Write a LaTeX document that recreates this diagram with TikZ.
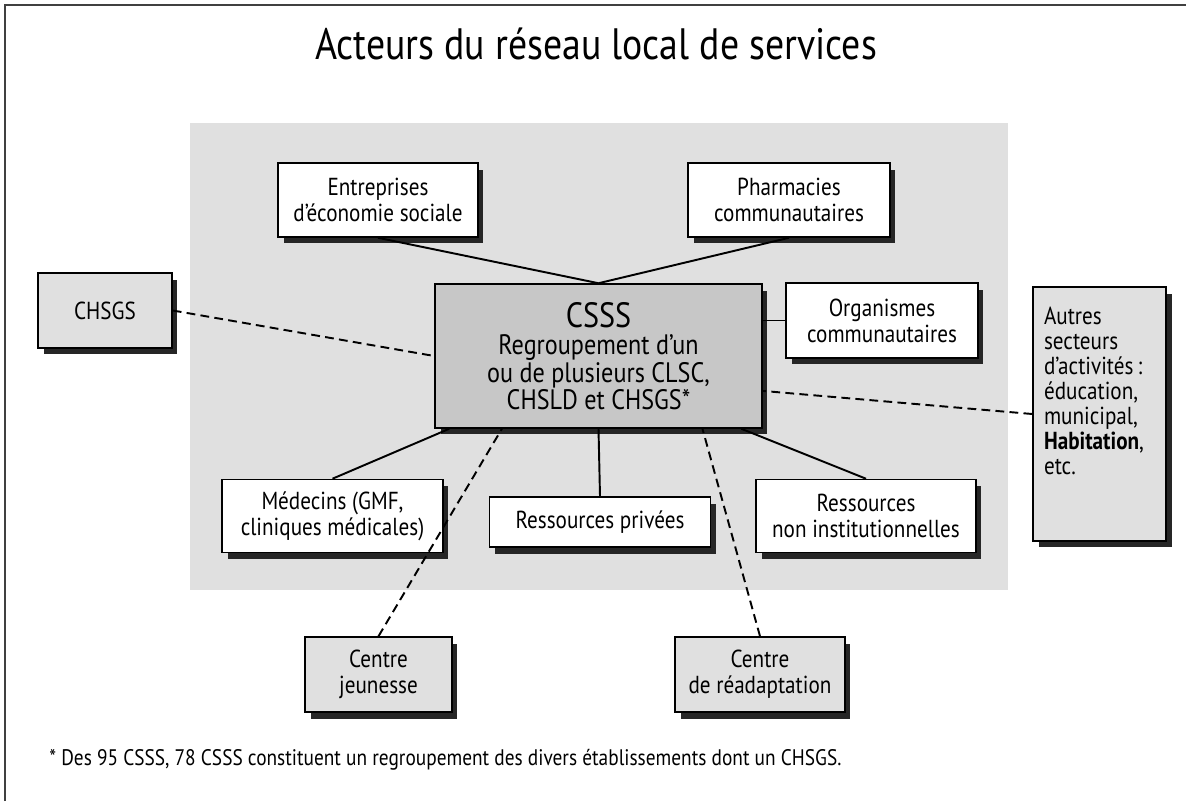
\documentclass[tikz,border=0pt]{standalone}
\usepackage{fontspec}
\setmainfont{PT Sans}[FakeStretch=0.86]
\usetikzlibrary{shadows, positioning}

\tikzset{
  box/.style={draw, line width=0.9pt, fill=white, align=center, inner sep=2pt,
    font=\fontsize{14}{14.7}\selectfont,
    drop shadow={shadow xshift=0.11cm, shadow yshift=-0.13cm, fill=black!85, opacity=1}},
  outbox/.style={box, fill=black!12},
  link/.style={line width=1.1pt},
  dlink/.style={line width=1.1pt, dash pattern=on 5pt off 3pt},
}

\begin{document}
\begin{tikzpicture}[x=0.02cm, y=-0.02cm, font=\fontsize{12.8}{14.7}\selectfont]
\useasboundingbox (0,0) rectangle (1186,801);
\draw[line width=1.3pt, black!75] (5,801) -- (5,5) -- (1186,5);

\node (title) at (596,44) {\fontsize{25}{28}\selectfont Acteurs du réseau local de services};

% zone grise du reseau local
\fill[black!12] (190,123) rectangle (1008,590);

\node[box, minimum width=4cm, minimum height=1.48cm] (entreprises) at (378,200) {Entreprises\\ d’économie sociale};
\node[box, minimum width=4.04cm, minimum height=1.48cm] (pharmacies) at (789,200) {Pharmacies\\ communautaires};
\node[box, fill=black!22, minimum width=6.54cm, minimum height=2.88cm,
  font=\fontsize{16}{15.6}\selectfont] (csss) at (598.5,356)
  {{\fontsize{20}{20}\selectfont CSSS}\\ Regroupement d’un\\ ou de plusieurs CLSC,\\ CHSLD et CHSGS*};
\node[box, minimum width=3.84cm, minimum height=1.5cm] (organismes) at (882,320.5) {Organismes\\ communautaires};

\node[outbox, minimum width=2.68cm, minimum height=1.5cm] (chsgs) at (105,310.5) {CHSGS};
\node[outbox, inner sep=0pt, font=\fontsize{14}{14.2}\selectfont] (autres) at (1099.5,414)
  {\parbox[t][5.08cm][t]{2.66cm}{\raggedright\hspace*{0.22cm}\parbox[t]{2.4cm}{\vspace*{0.4cm}\raggedright Autres\\ secteurs\\ d’activités\,:\\ éducation,\\ municipal,\\ \textbf{Habitation},\\ etc.}}};

\node[box, minimum width=4.42cm, minimum height=1.46cm] (medecins) at (332.5,516) {Médecins (GMF,\\ cliniques médicales)};
\node[box, minimum width=4.42cm, minimum height=1.0cm] (privees) at (600,522) {Ressources privées};
\node[box, minimum width=4.4cm, minimum height=1.46cm] (noninst) at (866,516) {Ressources\\ non institutionnelles};

\node[outbox, minimum width=2.94cm, minimum height=1.5cm] (jeunesse) at (378.5,674.5) {Centre\\ jeunesse};
\node[outbox, minimum width=3.4cm, minimum height=1.5cm] (readapt) at (760,674.5) {Centre\\ de réadaptation};

\node[anchor=west, inner sep=0pt] (note) at (49,760)
  {* Des 95 CSSS, 78 CSSS constituent un regroupement des divers établissements dont un CHSGS.};

% liens
\draw[link] (entreprises.south) -- (csss.north);
\draw[link] (pharmacies.south) -- (csss.north);
\draw[link] (organismes.west) -- (csss.east |- organismes.west);
\draw[link] (medecins.north) -- (csss.-154);
\draw[link] (privees.north) -- (csss.south);
\draw[link] (noninst.north) -- (csss.-27.6);
\draw[dlink] (chsgs.east) -- (csss.west);
\draw[dlink] (autres.west) -- (csss.-12.75);
\draw[dlink] (jeunesse.north) -- (csss.-143.8);
\draw[dlink] (readapt.north) -- (csss.-35.4);
\end{tikzpicture}
\end{document}
